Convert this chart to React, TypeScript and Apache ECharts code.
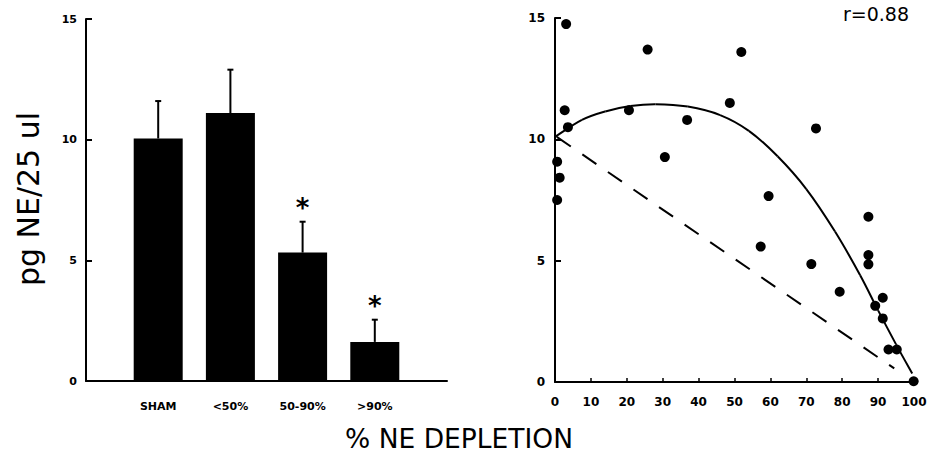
import React, { useEffect, useRef } from "react";
import * as echarts from "echarts";

// ---- Left panel: bar chart ----
const barCategories = ["SHAM", "<50%", "50-90%", ">90%"];
const barMeans = [10.05, 11.1, 5.32, 1.62];
const barSEM = [1.55, 1.8, 1.28, 0.92];
const significant = [0, 0, 1, 1];

// ---- Right panel: scatter of NE vs % depletion ----
const scatterX = [3.1, 25.8, 51.9, 2.7, 20.6, 48.7, 3.6, 36.8, 72.7, 30.6, 0.6, 1.3, 0.6, 59.5, 87.3, 57.3, 71.4, 87.3, 87.3, 79.3, 89.2, 91.3, 91.3, 92.9, 95.2, 99.9];
const scatterY = [14.75, 13.7, 13.6, 11.2, 11.2, 11.5, 10.5, 10.8, 10.45, 9.27, 9.08, 8.42, 7.5, 7.66, 6.81, 5.58, 4.86, 5.23, 4.85, 3.72, 3.14, 3.47, 2.62, 1.34, 1.34, 0.03];

// fitted curve (solid)
const fitX = [0, 7.5, 14, 21, 28, 37, 46, 54, 62, 70, 78, 85, 90, 95, 99.5];
const fitY = [10.1, 10.8, 11.15, 11.37, 11.45, 11.35, 11.0, 10.35, 9.3, 7.95, 6.2, 4.4, 2.95, 1.55, 0.35];

// dashed reference line
const dashX = [0.5, 94.5];
const dashY = [10.1, 0.56];

const rLabel = "r=0.88";
const yAxisTitle = "pg NE/25 ul";
const xAxisTitle = "% NE DEPLETION";

const FONT = "DejaVu Sans";

export default function App() {
  const ref = useRef<HTMLDivElement>(null);

  useEffect(() => {
    if (!ref.current) return;
    const chart = echarts.init(ref.current, undefined, { renderer: "svg" });

    const barData = barMeans.map((v, i) => [i + 1, v]);
    const errData = barMeans.map((v, i) => [i + 1, v, barSEM[i], significant[i]]);
    const scatterData = scatterX.map((x, i) => [x, scatterY[i]]);
    const fitData = fitX.map((x, i) => [x, fitY[i]]);
    const dashData = dashX.map((x, i) => [x, dashY[i]]);

    const axisLine = { show: true, lineStyle: { color: "#000", width: 2 } };
    const tickLabel = (size: number, margin: number) => ({
      color: "#000",
      fontFamily: FONT,
      fontWeight: "bold" as const,
      fontSize: size,
      margin,
    });

    const option: any = {
      animation: false,
      backgroundColor: "#fff",
      textStyle: { fontFamily: FONT },
      grid: [
        { left: 86, top: 19, width: 361, height: 362 },
        { left: 555, top: 18, width: 359, height: 364 },
      ],
      xAxis: [
        {
          type: "value",
          gridIndex: 0,
          min: 0,
          max: 5,
          interval: 1,
          axisLine,
          axisTick: { show: false },
          splitLine: { show: false },
          axisLabel: {
            ...tickLabel(11, 20),
            showMinLabel: false,
            showMaxLabel: false,
            formatter: (v: number) => barCategories[Math.round(v) - 1] ?? "",
          },
        },
        {
          type: "value",
          gridIndex: 1,
          min: 0,
          max: 100,
          interval: 10,
          axisLine,
          axisTick: { show: true, inside: true, length: 4, lineStyle: { color: "#000", width: 1.5 } },
          splitLine: { show: false },
          axisLabel: tickLabel(12, 14),
        },
      ],
      yAxis: [
        {
          type: "value",
          gridIndex: 0,
          min: 0,
          max: 15,
          interval: 5,
          axisLine,
          axisTick: { show: true, inside: true, length: 6, lineStyle: { color: "#000", width: 2 } },
          splitLine: { show: false },
          axisLabel: tickLabel(11, 9),
        },
        {
          type: "value",
          gridIndex: 1,
          min: 0,
          max: 15,
          interval: 5,
          axisLine,
          axisTick: { show: true, inside: true, length: 6, lineStyle: { color: "#000", width: 2 } },
          splitLine: { show: false },
          axisLabel: tickLabel(12, 10),
        },
      ],
      series: [
        {
          type: "bar",
          xAxisIndex: 0,
          yAxisIndex: 0,
          data: barData,
          barWidth: 49,
          itemStyle: { color: "#000" },
        },
        {
          type: "custom",
          xAxisIndex: 0,
          yAxisIndex: 0,
          data: errData,
          z: 5,
          renderItem: (params: any, api: any) => {
            const x = api.value(0);
            const m = api.value(1);
            const e = api.value(2);
            const sig = api.value(3);
            const p0 = api.coord([x, m]);
            const p1 = api.coord([x, m + e]);
            const children: any[] = [
              { type: "line", shape: { x1: p0[0], y1: p0[1], x2: p1[0], y2: p1[1] }, style: { stroke: "#000", lineWidth: 2 } },
              { type: "line", shape: { x1: p1[0] - 3, y1: p1[1], x2: p1[0] + 3, y2: p1[1] }, style: { stroke: "#000", lineWidth: 2 } },
            ];
            if (sig) {
              children.push({
                type: "text",
                x: p1[0],
                y: p1[1] - 14,
                style: { text: "*", fontSize: 26, fontWeight: "bold", fontFamily: FONT, fill: "#000", align: "center", verticalAlign: "middle" },
              });
            }
            return { type: "group", children };
          },
        },
        {
          // fitted curve: Catmull-Rom segments through the read points
          type: "custom",
          xAxisIndex: 1,
          yAxisIndex: 1,
          data: fitData,
          z: 3,
          renderItem: (params: any, api: any) => {
            const i = params.dataIndex;
            const n = fitData.length;
            if (i >= n - 1) return { type: "group", children: [] };
            const P = (k: number) => {
              const kk = Math.max(0, Math.min(n - 1, k));
              return api.coord(fitData[kk]);
            };
            const p0 = P(i - 1), p1 = P(i), p2 = P(i + 1), p3 = P(i + 2);
            return {
              type: "bezierCurve",
              shape: {
                x1: p1[0], y1: p1[1],
                x2: p2[0], y2: p2[1],
                cpx1: p1[0] + (p2[0] - p0[0]) / 6,
                cpy1: p1[1] + (p2[1] - p0[1]) / 6,
                cpx2: p2[0] - (p3[0] - p1[0]) / 6,
                cpy2: p2[1] - (p3[1] - p1[1]) / 6,
              },
              style: { stroke: "#000", lineWidth: 2, fill: null },
            };
          },
        },
        {
          type: "line",
          xAxisIndex: 1,
          yAxisIndex: 1,
          data: dashData,
          showSymbol: false,
          lineStyle: { color: "#000", width: 2, type: [17, 14] },
        },
        {
          type: "scatter",
          xAxisIndex: 1,
          yAxisIndex: 1,
          data: scatterData,
          symbol: "circle",
          symbolSize: 10,
          itemStyle: { color: "#000", opacity: 1 },
          z: 4,
        },
      ],
      graphic: [
        {
          type: "text",
          x: 28,
          y: 199,
          rotation: Math.PI / 2,
          style: { text: yAxisTitle, fontSize: 30, fontFamily: FONT, fill: "#000", align: "center", verticalAlign: "middle" },
        },
        {
          type: "text",
          x: 459,
          y: 438,
          style: { text: xAxisTitle, fontSize: 26.5, fontFamily: FONT, fill: "#000", align: "center", verticalAlign: "middle" },
        },
        {
          type: "text",
          x: 876,
          y: 14,
          style: { text: rLabel, fontSize: 19, fontFamily: FONT, fill: "#000", align: "center", verticalAlign: "middle" },
        },
      ],
    };

    chart.setOption(option);
    return () => chart.dispose();
  }, []);

  return <div ref={ref} style={{ position: "fixed", left: 0, top: 0, width: 937, height: 452 }} />;
}
